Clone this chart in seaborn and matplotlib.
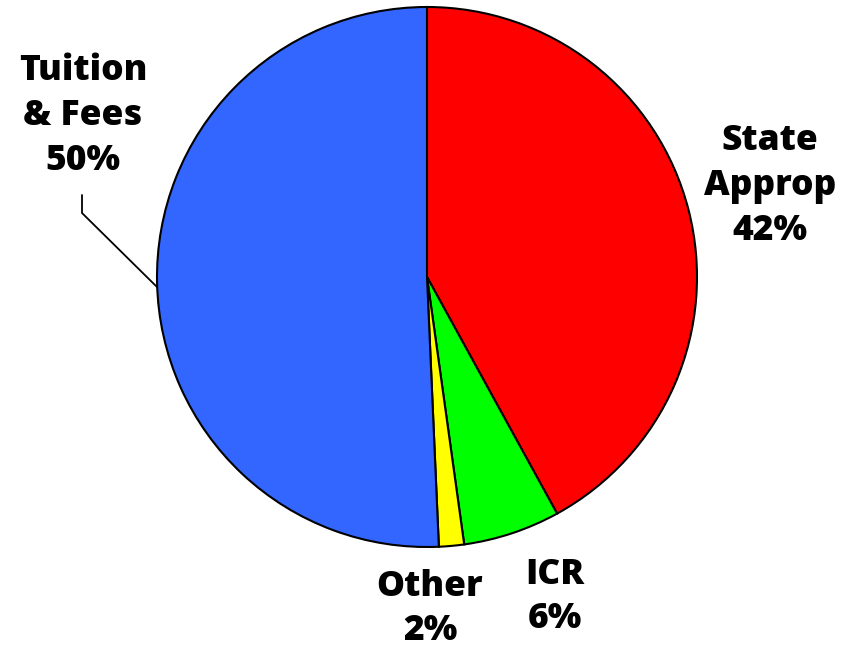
import matplotlib
matplotlib.use("Agg")
import matplotlib.pyplot as plt
import seaborn as sns

# ── Data ──────────────────────────────────────────────────────────────────────
categories = ["State\nApprop", "ICR", "Other", "Tuition\n& Fees"]
shares = [42.0, 5.8, 1.5, 50.7]
pct_labels = ["42%", "6%", "2%", "50%"]
colors = ["#FF0000", "#00FF00", "#FFFF00", "#3366FF"]

sns.set_theme(style="white")
plt.rcParams["font.family"] = ["Open Sans", "DejaVu Sans"]

W, H = 859, 648
fig = plt.figure(figsize=(W / 100, H / 100), dpi=100)
ax = fig.add_axes([0, 0, 1, 1])

# pixel-like coordinates, y measured upward
cx, cy, r = 427, H - 277, 270
ax.pie(
    shares,
    colors=colors,
    startangle=90,
    counterclock=False,
    center=(cx, cy),
    radius=r,
    frame=True,
    wedgeprops={"edgecolor": "black", "linewidth": 1.5},
)
ax.set_xlim(0, W)
ax.set_ylim(0, H)
ax.set_aspect("equal")
ax.axis("off")

label_pos = [(770, H - 186), (555, H - 597), (430, H - 609), (83, H - 116)]
for name, pct, (x, y) in zip(categories, pct_labels, label_pos):
    ax.text(x, y, f"{name}\n{pct}", ha="center", va="center",
            fontsize=25.5, fontweight="heavy", color="black", linespacing=1.33)

# leader line for Tuition & Fees
ax.plot([82, 82, 157], [H - 195, H - 213, H - 287], color="black", lw=1.3)

fig.savefig("out.png", dpi=100)
